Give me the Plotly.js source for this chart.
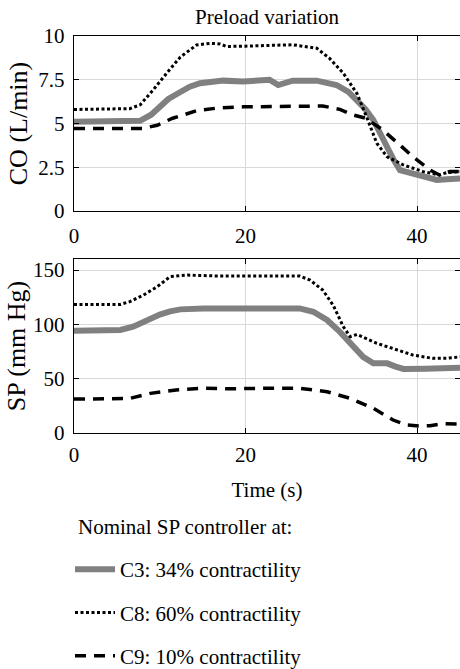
<!DOCTYPE html>
<html>
<head>
<meta charset="utf-8">
<script src="https://cdn.plot.ly/plotly-3.0.1.min.js"></script>
<style>html,body{margin:0;padding:0;background:#fff}#chart{width:460px;height:669px}</style>
</head>
<body>
<div id="chart"></div>
<script>
// ---- Data ----
var seriesNames = ['C3: 34% contractility', 'C8: 60% contractility', 'C9: 10% contractility'];
var legendHeading = 'Nominal SP controller at:';
var xTicks = [0, 20, 40];
var coTicks = [0, 2.5, 5, 7.5, 10];
var spTicks = [0, 50, 100, 150];

// Cardiac output (L/min)
var coC3_t = [0,2,4,6,7.7,9,10,11,12.4,13.5,14.7,16,17.4,19.7,21.7,22.8,23.8,25.5,28.3,30.6,32,33,34,34.9,35.7,36.5,37.3,38,40,41,42.3,43.5,45];
var coC3_v = [5.1,5.12,5.1,5.12,5.15,5.5,5.96,6.4,6.8,7.1,7.3,7.35,7.45,7.4,7.45,7.5,7.2,7.45,7.45,7.2,6.8,6.35,5.8,5.2,4.4,3.67,2.9,2.34,2.06,1.95,1.77,1.82,1.85];
var coC8_t = [0,3,6.5,7.7,9.2,10.8,12.4,14.3,15.9,17,17.8,20,22.8,25.5,28.3,29.8,31.4,33,34.1,35.3,36.5,38.4,40.7,42.6,43.5,45];
var coC8_v = [5.8,5.82,5.85,6.06,6.9,7.87,8.8,9.49,9.58,9.55,9.4,9.42,9.45,9.5,9.3,8.72,7.87,6.7,5.39,3.87,3.1,2.63,2.25,2.06,2.2,2.25];
var coC9_t = [0,4,8,9.7,11.5,14.3,17,19.7,22.8,26,29,31,32.5,34,36,38,39.5,41.5,42.6,43.8,45];
var coC9_v = [4.72,4.7,4.72,4.9,5.3,5.73,5.9,5.95,5.95,5.95,6.0,5.81,5.49,5.3,4.63,3.77,3.1,2.34,2.06,2.25,2.25];

// Systolic pressure (mm Hg)
var spC3_t = [0,3,5.4,6.9,8.5,10,11.2,12.4,15.1,18,20,22.8,24,26.3,27.9,29.5,31,32.5,33.7,34.9,36.5,37.5,38.4,41,45];
var spC3_v = [94,94.5,94.8,97.8,104,109,112,113.8,114.7,114.5,115,114.5,114,114.7,111.6,104,93,79.3,70,64,64,61,58.8,59,60];
var spC8_t = [0,3,5.4,6.5,8.1,9.7,11.2,13.2,17,20,22.8,26.3,27.5,29,30.2,31.4,32.2,33,35.3,37.6,39.5,41.8,43.5,45];
var spC8_v = [118.4,118.5,118.4,120.9,127,134.7,144,145.4,144.5,144.5,144.5,144.5,140.9,131.6,117.8,97.8,88.6,90.7,82.5,76.3,71.7,68.6,68.8,70];
var spC9_t = [0,3,6.5,8.9,11.9,15.1,18,22.8,26.3,29.5,32.2,34.9,37.2,38.8,40.3,41.5,43,45];
var spC9_v = [31,31,31.6,36.3,39.4,41,40.5,41,41,37.8,31.7,22.5,11.7,7.1,6.2,6.5,8.3,8];

// ---- Styles ----
var FAM = 'Liberation Serif, Times New Roman, serif';
var styles = [
  {color:'#808080', width:6, dash:'solid'},
  {color:'#000000', width:3, dash:'3px,2.5px'},
  {color:'#000000', width:3.5, dash:'11px,8px'}
];

function tr(t, v, i, xa, ya, show) {
  return {x:t, y:v, type:'scatter', mode:'lines', name:seriesNames[i],
    xaxis:xa, yaxis:ya, legendgroup:'g'+i, showlegend:show,
    line:{color:styles[i].color, width:styles[i].width, dash:styles[i].dash}};
}

var data = [
  tr(coC3_t, coC3_v, 0, 'x', 'y', true),
  tr(coC8_t, coC8_v, 1, 'x', 'y', true),
  tr(coC9_t, coC9_v, 2, 'x', 'y', true),
  tr(spC3_t, spC3_v, 0, 'x2', 'y2', false),
  tr(spC8_t, spC8_v, 1, 'x2', 'y2', false),
  tr(spC9_t, spC9_v, 2, 'x2', 'y2', false)
];

var H = 669, W = 460;
function F(s) { return {family:FAM, size:s || 21, color:'#000'}; }
function ax(extra) {
  var base = {showline:true, linecolor:'#000', linewidth:1.3, mirror:'ticks',
    ticks:'inside', ticklen:5, tickcolor:'#000', tickwidth:1,
    showgrid:true, gridcolor:'#d9d9d9', gridwidth:1, zeroline:false,
    automargin:false, fixedrange:true, tickfont:F()};
  for (var k in extra) base[k] = extra[k];
  return base;
}

var layout = {
  width:W, height:H,
  margin:{l:0, r:0, t:0, b:0, autoexpand:false},
  paper_bgcolor:'#fff', plot_bgcolor:'#fff',
  font:F(),
  title:{text:'Preload variation', x:267/W, xref:'paper', xanchor:'center', y:1-17/H, yref:'container', yanchor:'middle', font:F()},
  xaxis: ax({domain:[74/W, 1], range:[0,45], tickvals:xTicks, anchor:'y', ticklabelstandoff:5}),
  yaxis: ax({domain:[1-211/H, 1-36/H], range:[0,10], tickvals:coTicks, anchor:'x', ticklabelstandoff:4,
    title:{text:'CO (L/min)', standoff:3, font:F(26)}}),
  xaxis2: ax({domain:[74/W, 1], range:[0,45], tickvals:xTicks, anchor:'y2', ticklabelstandoff:3,
    title:{text:'Time (s)', standoff:16, font:F()}}),
  yaxis2: ax({domain:[1-432.7/H, 1-259.3/H], range:[0,160], tickvals:spTicks, anchor:'x2', ticklabelstandoff:4,
    title:{text:'SP (mm Hg)', standoff:0, font:F(26)}}),
  showlegend:true,
  legend:{x:70/W, xanchor:'left', y:1-549/H, yanchor:'top', bgcolor:'rgba(0,0,0,0)',
    traceorder:'grouped', tracegroupgap:13, itemwidth:40, font:F()},
  annotations:[{text:legendHeading, xref:'paper', yref:'paper', x:76/W, y:1-527/H,
    xanchor:'left', yanchor:'middle', showarrow:false, font:F()}]
};

Plotly.newPlot('chart', data, layout, {staticPlot:true, displayModeBar:false});
</script>
</body>
</html>
